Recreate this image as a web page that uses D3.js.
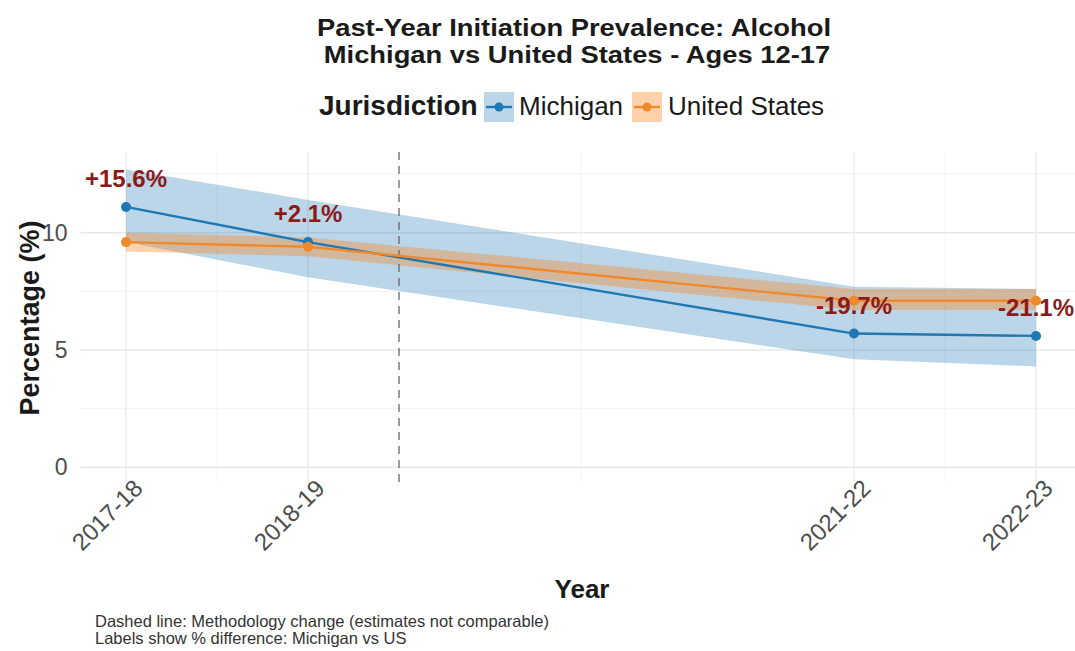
<!DOCTYPE html>
<html>
<head>
<meta charset="utf-8">
<script src="https://cdn.jsdelivr.net/npm/d3@7"></script>
<style>
  html, body { margin: 0; padding: 0; background: #fff; }
  svg { display: block; font-family: "Liberation Sans", Arial, sans-serif; }
</style>
</head>
<body>
<svg id="chart" width="1075" height="651"></svg>
<script>
// Survey periods (start year used as the numeric x position)
const periods = ["2017-18", "2018-19", "2021-22", "2022-23"];
const periodStart = [2017, 2018, 2021, 2022];

// Past-year alcohol initiation, ages 12-17 (%)
const michigan = [11.1, 9.6, 5.7, 5.6];
const michiganLow = [9.6, 8.1, 4.6, 4.3];
const michiganHigh = [12.7, 11.4, 7.7, 7.6];

const unitedStates = [9.6, 9.4, 7.1, 7.1];
const unitedStatesLow = [9.2, 9.0, 6.7, 6.7];
const unitedStatesHigh = [10.0, 9.8, 7.6, 7.6];

const yTicks = [0, 5, 10];
const yMinor = [2.5, 7.5, 12.5];
const xMinor = [2017.5, 2019.5, 2021.5];
const methodologyBreak = 2018.5;

const titleLines = ["Past-Year Initiation Prevalence: Alcohol", "Michigan vs United States - Ages 12-17"];

const series = [
  { name: "Michigan", color: "#1f78b4", fill: "rgba(31,120,180,0.30)", v: michigan, lo: michiganLow, hi: michiganHigh },
  { name: "United States", color: "#f0892c", fill: "rgba(255,127,14,0.35)", v: unitedStates, lo: unitedStatesLow, hi: unitedStatesHigh }
];

const FONT = "'Liberation Sans', Arial, sans-serif";
const svg = d3.select("#chart");

const x = d3.scaleLinear().domain([2016.75, 2022.25]).range([80.5, 1081.5]);
const y = d3.scaleLinear().domain([-0.63, 13.23]).range([482, 157]);

const panel = { left: 80.5, right: 1075, top: 152, bottom: 482 };

// Grid
const grid = svg.append("g");
yMinor.forEach(t => grid.append("line")
  .attr("x1", panel.left).attr("x2", panel.right)
  .attr("y1", y(t)).attr("y2", y(t))
  .attr("stroke", "#f3f3f3").attr("stroke-width", 1));
xMinor.forEach(t => grid.append("line")
  .attr("x1", x(t)).attr("x2", x(t))
  .attr("y1", panel.top).attr("y2", panel.bottom)
  .attr("stroke", "#f3f3f3").attr("stroke-width", 1));
yTicks.forEach(t => grid.append("line")
  .attr("x1", panel.left).attr("x2", panel.right)
  .attr("y1", y(t)).attr("y2", y(t))
  .attr("stroke", "#e8e8e8").attr("stroke-width", 1.3));
periodStart.forEach(t => grid.append("line")
  .attr("x1", x(t)).attr("x2", x(t))
  .attr("y1", panel.top).attr("y2", panel.bottom)
  .attr("stroke", "#e8e8e8").attr("stroke-width", 1.3));

// Y axis tick labels
const yAxis = d3.axisLeft(y).tickValues(yTicks).tickSize(0).tickPadding(8);
const yg = svg.append("g").attr("transform", `translate(${panel.left - 5},0)`).call(yAxis);
yg.select(".domain").remove();
yg.selectAll("text").attr("font-size", 23).attr("fill", "#4d4d4d").attr("font-family", FONT);

// X axis tick labels, rotated
const xAxis = d3.axisBottom(x).tickValues(periodStart).tickSize(0).tickPadding(0)
  .tickFormat((d, i) => periods[i]);
const xg = svg.append("g").attr("transform", `translate(0,${panel.bottom})`).call(xAxis);
xg.select(".domain").remove();
xg.selectAll("text")
  .attr("font-size", 24).attr("fill", "#4d4d4d").attr("font-family", FONT)
  .attr("text-anchor", "end")
  .attr("y", 0)
  .attr("dy", "0.75em")
  .attr("transform", "translate(5,-5) rotate(-45)");

// Confidence ribbons
const area = d3.area()
  .x((d, i) => x(periodStart[i]))
  .y0(d => y(d[0]))
  .y1(d => y(d[1]));
series.forEach(s => {
  svg.append("path")
    .datum(s.lo.map((l, i) => [l, s.hi[i]]))
    .attr("d", area)
    .attr("fill", s.fill);
});

// Methodology change marker
svg.append("line")
  .attr("x1", x(methodologyBreak)).attr("x2", x(methodologyBreak))
  .attr("y1", panel.top).attr("y2", panel.bottom)
  .attr("stroke", "#666").attr("stroke-width", 1.3)
  .attr("stroke-dasharray", "8,6");

// Lines
const line = d3.line().x((d, i) => x(periodStart[i])).y(d => y(d));
series.forEach(s => {
  svg.append("path").datum(s.v).attr("d", line)
    .attr("fill", "none").attr("stroke", s.color).attr("stroke-width", 2.4);
});
// Points
series.forEach(s => {
  svg.append("g").selectAll("circle").data(s.v).join("circle")
    .attr("cx", (d, i) => x(periodStart[i])).attr("cy", d => y(d))
    .attr("r", 5).attr("fill", s.color);
});

// Percent difference labels (Michigan vs US)
svg.append("g").selectAll("text").data(michigan).join("text")
  .attr("x", (d, i) => x(periodStart[i]))
  .attr("y", d => y(d + 1.2))
  .attr("dy", "0.35em")
  .attr("text-anchor", "middle")
  .attr("font-size", 24).attr("font-weight", "bold")
  .attr("fill", "#8b1a1a")
  .text((d, i) => {
    const p = (d - unitedStates[i]) / unitedStates[i] * 100;
    return (p >= 0 ? "+" : "") + p.toFixed(1) + "%";
  });

// Title (two lines, slightly widened)
const titleY = [36, 63];
const titleX = [574, 577];
titleLines.forEach((t, i) => {
  svg.append("text")
    .attr("transform", `translate(${titleX[i]},${titleY[i]}) scale(1.14,1)`)
    .attr("text-anchor", "middle")
    .attr("font-size", 24).attr("font-weight", "bold").attr("fill", "#1a1a1a")
    .text(t);
});

// Legend
const legend = svg.append("g");
legend.append("text").attr("x", 319).attr("y", 115)
  .attr("font-size", 28).attr("font-weight", "bold").attr("fill", "#1a1a1a")
  .text("Jurisdiction");
const keyPos = [{ kx: 484, tx: 519 }, { kx: 632, tx: 668 }];
series.forEach((s, i) => {
  const k = keyPos[i];
  legend.append("rect").attr("x", k.kx).attr("y", 92).attr("width", 30).attr("height", 30)
    .attr("fill", s.fill);
  legend.append("line").attr("x1", k.kx + 2).attr("x2", k.kx + 28).attr("y1", 107).attr("y2", 107)
    .attr("stroke", s.color).attr("stroke-width", 2.4);
  legend.append("circle").attr("cx", k.kx + 15).attr("cy", 107).attr("r", 4.5).attr("fill", s.color);
  legend.append("text").attr("x", k.tx).attr("y", 115)
    .attr("font-size", 26).attr("fill", "#1a1a1a").text(s.name);
});

// Axis titles
svg.append("text").attr("x", 582).attr("y", 598).attr("text-anchor", "middle")
  .attr("font-size", 26).attr("font-weight", "bold").attr("fill", "#1a1a1a").text("Year");
svg.append("text").attr("transform", "translate(39,318) rotate(-90)")
  .attr("text-anchor", "middle")
  .attr("font-size", 27).attr("font-weight", "bold").attr("fill", "#1a1a1a").text("Percentage (%)");

// Caption
const cap = svg.append("text").attr("font-size", 16.5).attr("fill", "#333");
cap.append("tspan").attr("x", 95).attr("y", 627).text("Dashed line: Methodology change (estimates not comparable)");
cap.append("tspan").attr("x", 95).attr("y", 644).text("Labels show % difference: Michigan vs US");
</script>
</body>
</html>
